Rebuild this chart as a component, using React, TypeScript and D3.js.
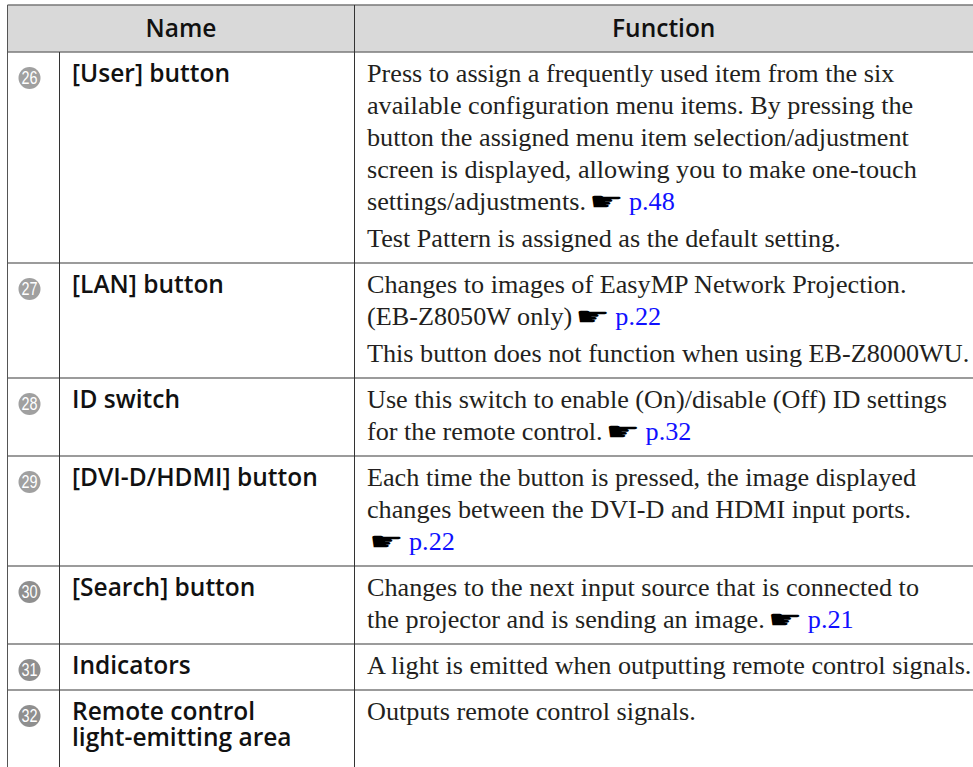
import React, { useEffect, useRef } from "react";
import * as d3 from "d3";

const numbers = [26, 27, 28, 29, 30, 31, 32];
const names: string[][] = [
  ["[User] button"],
  ["[LAN] button"],
  ["ID switch"],
  ["[DVI-D/HDMI] button"],
  ["[Search] button"],
  ["Indicators"],
  ["Remote control", "light-emitting area"],
];
const functions: string[][][] = [
  [
    [
      "Press to assign a frequently used item from the six",
      "available configuration menu items. By pressing the",
      "button the assigned menu item selection/adjustment",
      "screen is displayed, allowing you to make one-touch",
      "settings/adjustments. ☛ p.48",
    ],
    ["Test Pattern is assigned as the default setting."],
  ],
  [
    ["Changes to images of EasyMP Network Projection.", "(EB-Z8050W only) ☛ p.22"],
    ["This button does not function when using EB-Z8000WU."],
  ],
  [["Use this switch to enable (On)/disable (Off) ID settings", "for the remote control. ☛ p.32"]],
  [
    [
      "Each time the button is pressed, the image displayed",
      "changes between the DVI-D and HDMI input ports.",
      "☛ p.22",
    ],
  ],
  [["Changes to the next input source that is connected to", "the projector and is sending an image. ☛ p.21"]],
  [["A light is emitted when outputting remote control signals."]],
  [["Outputs remote control signals."]],
];
const headers = ["Name", "Function"];

const W = 973;
const H = 767;
const X0 = 7.5;
const X1 = 59.5;
const X2 = 354.5;
const XR = 980;
const TOP = 5;
const HEAD_B = 52;
const LH = 32;
const FIRST = 30;
const PGAP = 5;
const PAD_B = 14;
const NAME_LH = 26;
const TX = 367;

const SANS = "'Open Sans', 'Noto Sans', sans-serif";
const SERIF = "'Liberation Serif', 'Times New Roman', serif";
const BODY_SIZE = "26.2px";
const NAME_SIZE = "24.5px";

export default function App() {
  const ref = useRef<SVGSVGElement>(null);
  useEffect(() => {
    const svg = d3.select(ref.current);
    svg.selectAll("*").remove();

    const heights = functions.map((paras, i) => {
      const n = Math.max(d3.sum(paras, (p) => p.length), names[i].length);
      return n * LH + (paras.length - 1) * PGAP + PAD_B;
    });
    const tops = [HEAD_B, ...Array.from(d3.cumsum(heights)).map((c) => HEAD_B + c)];

    // header
    svg.append("rect").attr("x", X0).attr("y", TOP).attr("width", XR - X0).attr("height", HEAD_B - TOP).attr("fill", "#d9d9d9");
    const hx = [(X0 + X2) / 2, (X2 + W) / 2];
    headers.forEach((h, i) => {
      svg.append("text").attr("x", hx[i]).attr("y", TOP + 32).attr("text-anchor", "middle")
        .style("font-family", SANS).style("font-weight", 600).style("font-size", NAME_SIZE).attr("fill", "#111").text(h);
    });

    numbers.forEach((num, i) => {
      const top = tops[i];
      const base = top + FIRST;
      const cy = top + 26;
      const g = svg.append("g");
      g.append("circle").attr("cx", 29.5).attr("cy", cy).attr("r", 11)
        .attr("fill", num >= 30 ? "#8f8f8f" : "#a0a0a0");
      g.append("text").attr("x", 29.5).attr("y", cy + 6.2).attr("text-anchor", "middle")
        .style("font-family", "'Liberation Sans Narrow', 'Liberation Sans', sans-serif")
        .style("font-size", "17.5px").attr("fill", "#fff")
        .attr("textLength", 16).attr("lengthAdjust", "spacingAndGlyphs")
        .text(String(num));
      names[i].forEach((ln, j) => {
        svg.append("text").attr("x", 72).attr("y", base + j * NAME_LH)
          .style("font-family", SANS).style("font-weight", 600).style("font-size", NAME_SIZE)
          .attr("fill", "#111").text(ln);
      });
      let y = base;
      functions[i].forEach((para, pi) => {
        if (pi > 0) y += PGAP;
        para.forEach((ln) => {
          const parts = ln.split("☛");
          const t = svg.append("text").attr("x", TX).attr("y", y)
            .style("font-family", SERIF).style("font-size", BODY_SIZE).attr("fill", "#231f20")
            .text(parts[0]);
          if (parts.length > 1) {
            const w = parts[0].length ? (t.node() as SVGTextElement).getComputedTextLength() : 0;
            const hx0 = TX + w + (parts[0].length ? 3 : 2);
            svg.append("text")
              .attr("transform", `translate(${hx0},${y}) scale(1.55,1)`)
              .style("font-family", "'DejaVu Sans', sans-serif").style("font-size", "25px")
              .attr("fill", "#000").text("☛");
            svg.append("text").attr("x", hx0 + 40).attr("y", y)
              .style("font-family", SERIF).style("font-size", BODY_SIZE).attr("fill", "#1010ff")
              .text(parts[1].trim());
          }
          y += LH;
        });
      });
    });

    svg.append("line").attr("x1", X0).attr("x2", XR).attr("y1", TOP).attr("y2", TOP)
      .attr("stroke", "#777").attr("stroke-width", 1.5);
    tops.filter((t) => t < H).forEach((y) => {
      svg.append("line").attr("x1", X0).attr("x2", XR).attr("y1", y).attr("y2", y)
        .attr("stroke", "#7a7a7a").attr("stroke-width", 1.5);
    });
    svg.append("line").attr("x1", X0).attr("x2", X0).attr("y1", TOP).attr("y2", H)
      .attr("stroke", "#555").attr("stroke-width", 1);
    svg.append("line").attr("x1", X1).attr("x2", X1).attr("y1", HEAD_B).attr("y2", H)
      .attr("stroke", "#333").attr("stroke-width", 1);
    svg.append("line").attr("x1", X2).attr("x2", X2).attr("y1", TOP).attr("y2", H)
      .attr("stroke", "#333").attr("stroke-width", 1);
  }, []);

  return (
    <svg ref={ref} width={W} height={H} style={{ position: "absolute", left: 0, top: 0, background: "#fff" }} />
  );
}
